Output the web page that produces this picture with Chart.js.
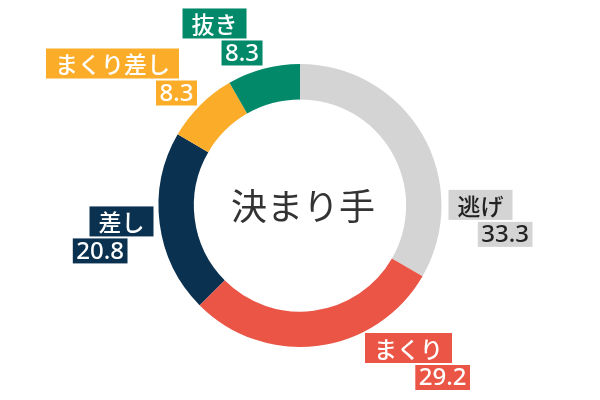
<!DOCTYPE html>
<html lang="ja">
<head>
<meta charset="utf-8">
<title>決まり手</title>
<script src="https://cdn.jsdelivr.net/npm/chart.js@4.4.1/dist/chart.umd.min.js"></script>
<style>
  html, body { margin: 0; padding: 0; background: #fff; }
  #wrap { width: 600px; height: 400px; }
</style>
</head>
<body>
<div id="wrap"><canvas id="kimariteChart" width="600" height="400"></canvas></div>
<script>
const categories = ['逃げ', 'まくり', '差し', 'まくり差し', '抜き'];
const rates = [33.3, 29.2, 20.8, 8.3, 8.3];
const centerTitle = '決まり手';

const sliceColors = ['#d4d4d4', '#ea5546', '#0b3150', '#fbad2a', '#02896a'];
const labelTextColors = ['#222222', '#ffffff', '#ffffff', '#ffffff', '#ffffff'];

// label nudges: degrees turned away from the slice middle, px beyond the ring,
// and where the value box's right edge sits relative to the name box's right edge
const labelTurn = [29.8, -29.9, 2.2, -8.0, -10.2];
const labelGap = [39, 37.6, 37.7, 93.7, 59.6];
const valueShift = [20, 18, -26, 18, 16];

const cjkFont = '"Noto Sans CJK JP", "Noto Sans", sans-serif';
const numFont = '"Noto Sans", "DejaVu Sans", sans-serif';

const labelPlugin = {
  id: 'sliceLabels',
  afterDatasetsDraw(chart) {
    const ctx = chart.ctx;
    const arcs = chart.getDatasetMeta(0).data;
    ctx.save();
    ctx.textAlign = 'center';
    ctx.textBaseline = 'middle';

    arcs.forEach((arc, i) => {
      const { x, y, startAngle, endAngle, outerRadius } =
        arc.getProps(['x', 'y', 'startAngle', 'endAngle', 'outerRadius'], true);
      const angle = (startAngle + endAngle) / 2 + labelTurn[i] * Math.PI / 180;
      const dist = outerRadius + labelGap[i];
      const cx = x + Math.cos(angle) * dist;
      const cy = y + Math.sin(angle) * dist;

      // name box
      ctx.font = '500 23px ' + cjkFont;
      const nameW = ctx.measureText(categories[i]).width + 18;
      const nameH = 30;
      const nameL = cx - nameW / 2;
      const nameT = cy - nameH / 2;
      ctx.fillStyle = sliceColors[i];
      ctx.fillRect(nameL, nameT, nameW, nameH);
      ctx.fillStyle = labelTextColors[i];
      ctx.fillText(categories[i], cx, cy + 1);

      // value box
      const valueText = rates[i].toFixed(1);
      ctx.font = '500 24px ' + numFont;
      const valueW = ctx.measureText(valueText).width + 7;
      const valueH = 25;
      const valueR = nameL + nameW + valueShift[i];
      const valueT = nameT + nameH + 2;
      ctx.fillStyle = sliceColors[i];
      ctx.fillRect(valueR - valueW, valueT, valueW, valueH);
      ctx.fillStyle = labelTextColors[i];
      ctx.fillText(valueText, valueR - valueW / 2, valueT + valueH / 2 + 1);
    });

    // title in the hole
    const first = arcs[0];
    ctx.font = '400 36px ' + cjkFont;
    ctx.fillStyle = '#333333';
    ctx.fillText(centerTitle, first.x + 3, first.y + 1);
    ctx.restore();
  }
};

new Chart(document.getElementById('kimariteChart'), {
  type: 'doughnut',
  data: {
    labels: categories,
    datasets: [{
      data: rates,
      backgroundColor: sliceColors,
      borderWidth: 0,
      hoverOffset: 0
    }]
  },
  options: {
    responsive: false,
    animation: false,
    cutout: '75%',
    events: [],
    layout: { padding: { top: 64, bottom: 53, left: 0, right: 0 } },
    plugins: {
      legend: { display: false },
      tooltip: { enabled: false }
    }
  },
  plugins: [labelPlugin]
});
</script>
</body>
</html>
